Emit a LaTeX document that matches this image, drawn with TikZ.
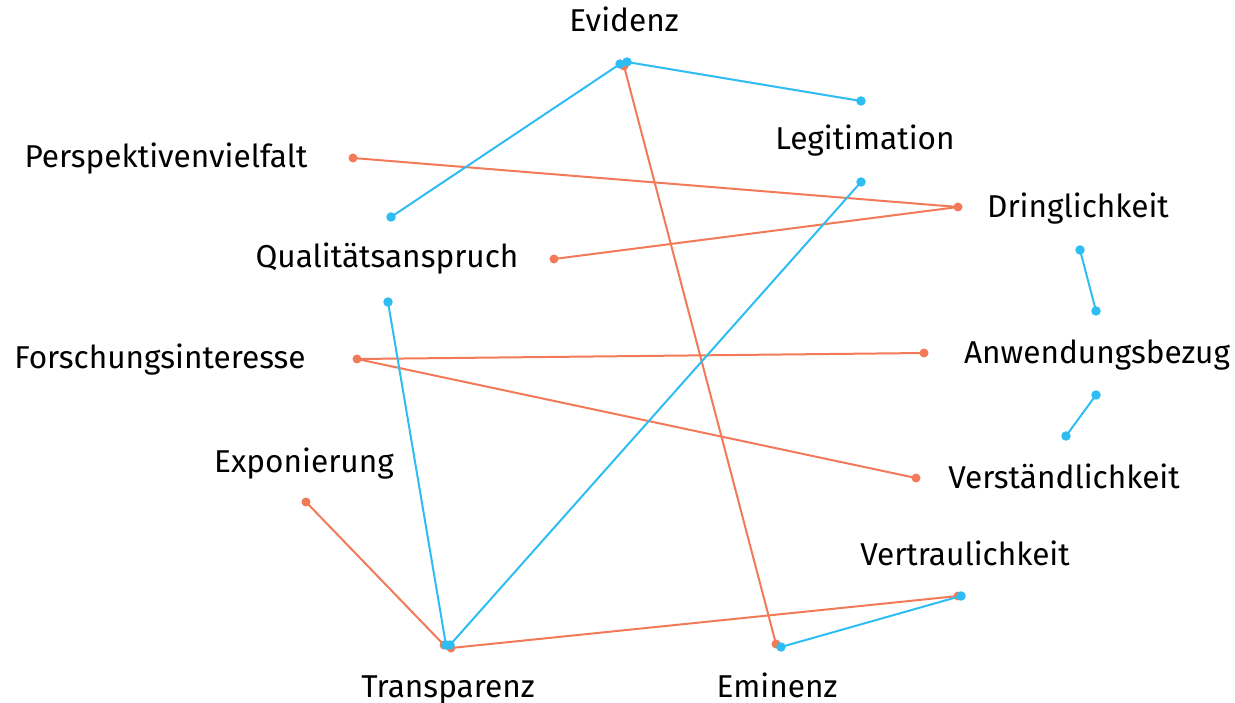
\documentclass[tikz,border=0pt]{standalone}
\usepackage{fontspec}
\setmainfont{Fira Sans}
\definecolor{linkblue}{HTML}{2EBDF2}
\definecolor{linkcoral}{HTML}{F27A58}
\begin{document}
\begin{tikzpicture}[x=1pt,y=-1pt,
  lbl/.style={font=\fontsize{31.6}{36}\selectfont, text=black, inner sep=0pt, anchor=base},
  bdot/.style={circle, fill=linkblue, inner sep=0pt, minimum size=9.5pt},
  cdot/.style={circle, fill=linkcoral, inner sep=0pt, minimum size=9pt},
  blink/.style={draw=linkblue, line width=2pt},
  clink/.style={draw=linkcoral, line width=2pt}]
\useasboundingbox (0,0) rectangle (1235,703);

% labels (placed on their baselines)
\node[lbl] (evidenz) at (624,32) {Evidenz};
\node[lbl] (legit) at (865,150) {Legitimation};
\node[lbl] (persp) at (166,168) {Perspektivenvielfalt};
\node[lbl] (dring) at (1078,218) {Dringlichkeit};
\node[lbl] (quali) at (387,268) {Qualitätsanspruch};
\node[lbl] (forsch) at (160,369) {Forschungsinteresse};
\node[lbl] (anwend) at (1097,364) {Anwendungsbezug};
\node[lbl] (expon) at (304,472) {Exponierung};
\node[lbl] (verst) at (1064,488) {Verständlichkeit};
\node[lbl] (vertr) at (965,565) {Vertraulichkeit};
\node[lbl] (transp) at (448,697) {Transparenz};
\node[lbl] (eminenz) at (777,697) {Eminenz};

% anchor points of the links
\coordinate (ev-b1) at (620,64);
\coordinate (ev-b2) at (627,62);
\coordinate (ev-c) at (624,66);
\coordinate (le-b1) at (861,101);
\coordinate (le-b2) at (861,182);
\coordinate (pe-c) at (353,158);
\coordinate (dr-c) at (958,207);
\coordinate (dr-b) at (1080,250);
\coordinate (qu-b1) at (391,217);
\coordinate (qu-c) at (554,259);
\coordinate (qu-b2) at (388,302);
\coordinate (an-b1) at (1096,311);
\coordinate (an-c) at (924,353);
\coordinate (an-b2) at (1096,395);
\coordinate (fo-c) at (357,359);
\coordinate (ve-b) at (1066,436);
\coordinate (ve-c) at (916,478);
\coordinate (ex-c) at (306,502);
\coordinate (vt-b) at (961,596);
\coordinate (vt-c) at (958,596);
\coordinate (tr-c1) at (444,645);
\coordinate (tr-c2) at (451,648);
\coordinate (tr-b1) at (446,645);
\coordinate (tr-b2) at (450,645);
\coordinate (em-c) at (776,644);
\coordinate (em-b) at (781,647);

% coral links
\draw[clink] (ev-c) -- (em-c);
\draw[clink] (pe-c) -- (dr-c);
\draw[clink] (qu-c) -- (dr-c);
\draw[clink] (fo-c) -- (an-c);
\draw[clink] (fo-c) -- (ve-c);
\draw[clink] (ex-c) -- (tr-c1);
\draw[clink] (tr-c2) -- (vt-c);
\foreach \p in {ev-c,pe-c,dr-c,qu-c,an-c,fo-c,ve-c,ex-c,vt-c,tr-c1,tr-c2,em-c}
  \node[cdot] at (\p) {};

% blue links
\draw[blink] (ev-b1) -- (qu-b1);
\draw[blink] (ev-b2) -- (le-b1);
\draw[blink] (le-b2) -- (tr-b2);
\draw[blink] (qu-b2) -- (tr-b1);
\draw[blink] (dr-b) -- (an-b1);
\draw[blink] (an-b2) -- (ve-b);
\draw[blink] (vt-b) -- (em-b);
\foreach \p in {ev-b1,ev-b2,le-b1,le-b2,qu-b1,qu-b2,dr-b,an-b1,an-b2,ve-b,vt-b,tr-b1,tr-b2,em-b}
  \node[bdot] at (\p) {};
\end{tikzpicture}
\end{document}
